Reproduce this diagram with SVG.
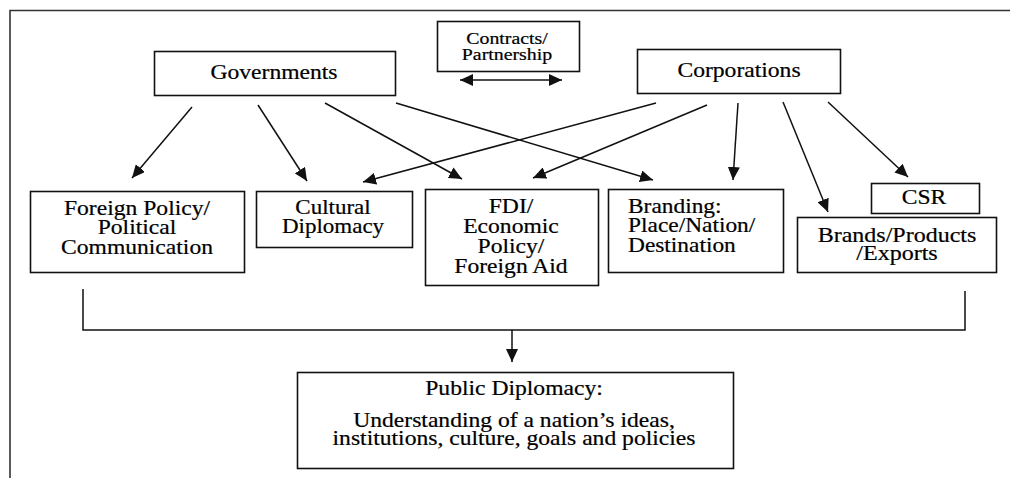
<svg xmlns="http://www.w3.org/2000/svg" width="1010" height="478" viewBox="0 0 1010 478">
  <style>
    .box { fill: #fff; stroke: #111; stroke-width: 1.6; }
    .frame { fill: none; stroke: #333; stroke-width: 1.6; }
    .link { fill: none; stroke: #111; stroke-width: 1.5; }
    .t { font-family: "Liberation Serif", "Times New Roman", serif; font-size: 20px; fill: #000; text-anchor: middle; stroke: #000; stroke-width: 0.2; }
    .s { font-size: 16px; }
    .l { text-anchor: start; }
  </style>
  <defs>
    <marker id="arrow" markerWidth="13" markerHeight="12" refX="13" refY="6" orient="auto" markerUnits="userSpaceOnUse">
      <path d="M0,0 L13,6 L0,12 z" fill="#111"/>
    </marker>
    <marker id="arrow-start" markerWidth="13" markerHeight="12" refX="0" refY="6" orient="auto" markerUnits="userSpaceOnUse">
      <path d="M13,0 L0,6 L13,12 z" fill="#111"/>
    </marker>
  </defs>

  <rect width="1010" height="478" fill="#fff"/>
  <!-- page frame: top and left edges only -->
  <path class="frame" d="M10,478 L10,10.5 L1010,10.5"/>

  <g id="connectors">
    <!-- Governments -->
    <line class="link" x1="192" y1="107" x2="132" y2="178" marker-end="url(#arrow)"/>
    <line class="link" x1="258" y1="105" x2="307" y2="181" marker-end="url(#arrow)"/>
    <line class="link" x1="325" y1="103" x2="462" y2="179" marker-end="url(#arrow)"/>
    <line class="link" x1="396" y1="103" x2="653" y2="180" marker-end="url(#arrow)"/>
    <!-- Corporations -->
    <line class="link" x1="656" y1="103" x2="363" y2="182" marker-end="url(#arrow)"/>
    <line class="link" x1="707" y1="105" x2="533" y2="178" marker-end="url(#arrow)"/>
    <line class="link" x1="738" y1="103" x2="733" y2="180" marker-end="url(#arrow)"/>
    <line class="link" x1="783" y1="102" x2="828" y2="212" marker-end="url(#arrow)"/>
    <line class="link" x1="828" y1="102" x2="908" y2="177" marker-end="url(#arrow)"/>
    <!-- contracts / partnership two-way arrow -->
    <line class="link" x1="460" y1="80" x2="562" y2="80" marker-start="url(#arrow-start)" marker-end="url(#arrow)"/>
    <!-- bracket gathering the outcomes -->
    <path class="link" d="M83,289 L83,330 L965,330 L965,291"/>
    <line class="link" x1="512" y1="330" x2="512" y2="362" marker-end="url(#arrow)"/>
  </g>

  <g id="governments">
    <rect class="box" x="154.5" y="51.5" width="241" height="44"/>
    <text class="t" transform="translate(274 0) scale(1.18 1)" x="0" y="79">Governments</text>
  </g>

  <g id="contracts">
    <rect class="box" x="437.5" y="21.5" width="142" height="50"/>
    <text class="t s" transform="translate(507 0) scale(1.24 1)"><tspan x="0" y="44">Contracts/</tspan><tspan x="0" y="60">Partnership</tspan></text>
  </g>

  <g id="corporations">
    <rect class="box" x="637.5" y="49.5" width="203" height="44"/>
    <text class="t" transform="translate(739 0) scale(1.18 1)" x="0" y="77">Corporations</text>
  </g>

  <g id="foreign-policy">
    <rect class="box" x="30.5" y="191.5" width="214" height="81"/>
    <text class="t" transform="translate(137 0) scale(1.18 1)"><tspan x="0" y="215">Foreign Policy/</tspan><tspan x="0" y="234.5">Political</tspan><tspan x="0" y="254">Communication</tspan></text>
  </g>

  <g id="cultural-diplomacy">
    <rect class="box" x="256.5" y="191.5" width="156" height="56"/>
    <text class="t" transform="translate(333 0) scale(1.15 1)"><tspan x="0" y="214">Cultural</tspan><tspan x="0" y="233">Diplomacy</tspan></text>
  </g>

  <g id="fdi">
    <rect class="box" x="425.5" y="189.5" width="173" height="96"/>
    <text class="t" transform="translate(511 0) scale(1.18 1)"><tspan x="0" y="213">FDI/</tspan><tspan x="0" y="233">Economic</tspan><tspan x="0" y="253">Policy/</tspan><tspan x="0" y="273">Foreign Aid</tspan></text>
  </g>

  <g id="branding">
    <rect class="box" x="608.5" y="189.5" width="175" height="83"/>
    <text class="t l" transform="translate(628 0) scale(1.17 1)"><tspan x="0" y="213">Branding:</tspan><tspan x="0" y="232.5">Place/Nation/</tspan><tspan x="0" y="252">Destination</tspan></text>
  </g>

  <g id="csr">
    <rect class="box" x="871.5" y="183.5" width="108" height="30"/>
    <text class="t" transform="translate(924 0) scale(1.18 1)" x="0" y="204">CSR</text>
  </g>

  <g id="brands">
    <rect class="box" x="797.5" y="217.5" width="199" height="55"/>
    <text class="t" transform="translate(897 0) scale(1.2 1)"><tspan x="0" y="242">Brands/Products</tspan><tspan x="0" y="260">/Exports</tspan></text>
  </g>

  <g id="public-diplomacy">
    <rect class="box" x="297.5" y="372.5" width="436" height="96"/>
    <text class="t" transform="translate(514 0) scale(1.18 1)"><tspan x="0" y="395">Public Diplomacy:</tspan><tspan x="0" y="427">Understanding of a nation’s ideas,</tspan><tspan x="0" y="445">institutions, culture, goals and policies</tspan></text>
  </g>
</svg>
